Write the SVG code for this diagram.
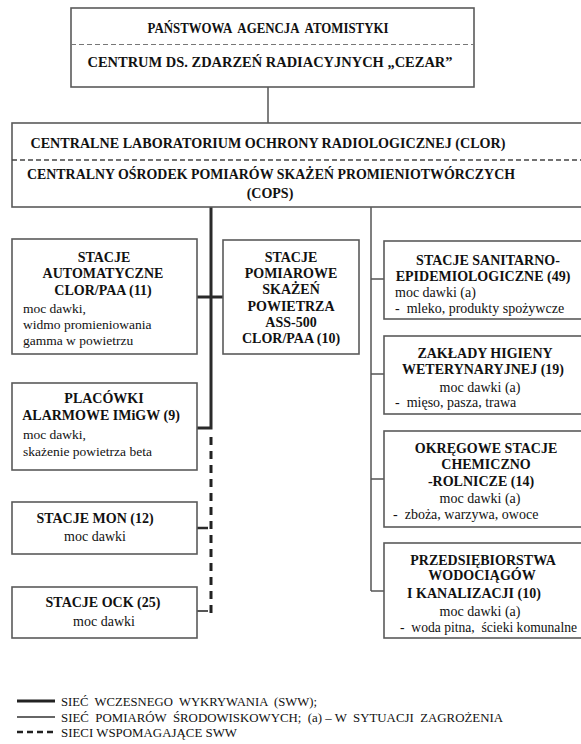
<svg xmlns="http://www.w3.org/2000/svg" width="581" height="744" viewBox="0 0 581 744">
<style>
.box{fill:#fff;stroke:#5a5a5a;stroke-width:1.6}
.div{stroke:#444;stroke-width:1.3;stroke-dasharray:5 3;fill:none}
.h{font-family:'Liberation Serif','DejaVu Serif',serif;font-weight:bold;font-size:14px;fill:#111;text-anchor:middle;white-space:pre}
.b{font-family:'Liberation Serif','DejaVu Serif',serif;font-size:13.5px;fill:#111;white-space:pre}
.br{font-family:'Liberation Serif','DejaVu Serif',serif;font-size:14px;fill:#111;white-space:pre}
.bc{font-family:'Liberation Serif','DejaVu Serif',serif;font-size:14px;fill:#111;text-anchor:middle}
.lg{font-family:'Liberation Serif','DejaVu Serif',serif;font-size:12.5px;fill:#111;white-space:pre}
.thick{stroke:#2a2a2a;stroke-width:3;fill:none}
.thin{stroke:#555;stroke-width:1.5;fill:none}
.dash{stroke:#222;stroke-width:3;stroke-dasharray:8 6;fill:none}
</style>
<rect width="581" height="744" fill="#fff"/>
<g id="connectors">
<line class="thin" x1="268" y1="87" x2="268" y2="123"/>
<path class="thick" d="M211 207 V428 H197"/>
<line class="thick" x1="197" y1="297" x2="223" y2="297"/>
<line class="dash" x1="211" y1="437" x2="211" y2="614"/>
<line class="thick" x1="197" y1="528" x2="208" y2="528" style="stroke-width:2.5"/>
<line class="thin" x1="197" y1="611" x2="208" y2="611" style="stroke-width:2"/>
<line class="thin" x1="371" y1="207" x2="371" y2="591"/>
<line class="thin" x1="371" y1="279" x2="384" y2="279"/>
<line class="thin" x1="371" y1="374" x2="384" y2="374"/>
<line class="thin" x1="371" y1="479" x2="384" y2="479"/>
<line class="thin" x1="371" y1="591" x2="384" y2="591"/>
</g>
<g id="paa">
<rect class="box" x="71" y="8" width="403" height="79"/>
<line class="div" x1="71" y1="44.5" x2="474" y2="44.5" style="stroke:#777;stroke-width:1"/>
<text class="h" x="268" y="33" font-size="13" textLength="241" lengthAdjust="spacingAndGlyphs">PAŃSTWOWA  AGENCJA  ATOMISTYKI</text>
<text class="h" x="270" y="67" font-size="15" textLength="365" lengthAdjust="spacingAndGlyphs">CENTRUM DS. ZDARZEŃ RADIACYJNYCH „CEZAR”</text>
</g>
<g id="clor">
<rect class="box" x="12" y="123" width="600" height="84"/>
<line class="div" x1="12" y1="160" x2="581" y2="160"/>
<text class="h" x="268" y="147.5" font-size="16" textLength="475" lengthAdjust="spacingAndGlyphs">CENTRALNE LABORATORIUM OCHRONY RADIOLOGICZNEJ (CLOR)</text>
<text class="h" x="271" y="178.5" font-size="16" textLength="488" lengthAdjust="spacingAndGlyphs">CENTRALNY OŚRODEK POMIARÓW SKAŻEŃ PROMIENIOTWÓRCZYCH</text>
<text class="h" x="270" y="197.5" font-size="16">(COPS)</text>
</g>
<g id="automatyczne">
<rect class="box" x="12" y="239" width="185" height="115"/>
<text class="h" x="104" y="262">STACJE</text>
<text class="h" x="103" y="278">AUTOMATYCZNE</text>
<text class="h" x="103" y="295">CLOR/PAA (11)</text>
<text class="b" x="23" y="313">moc dawki,</text>
<text class="b" x="23" y="329">widmo promieniowania</text>
<text class="b" x="23" y="345">gamma w powietrzu</text>
</g>
<g id="ass500">
<rect class="box" x="223" y="240" width="136" height="114"/>
<text class="h" x="291" y="262">STACJE</text>
<text class="h" x="291" y="278">POMIAROWE</text>
<text class="h" x="291" y="294">SKAŻEŃ</text>
<text class="h" x="291" y="311">POWIETRZA</text>
<text class="h" x="291" y="327">ASS-500</text>
<text class="h" x="291" y="343">CLOR/PAA (10)</text>
</g>
<g id="imigw">
<rect class="box" x="12" y="383" width="185" height="87"/>
<text class="h" x="104" y="403">PLACÓWKI</text>
<text class="h" x="101" y="420">ALARMOWE IMiGW (9)</text>
<text class="b" x="23" y="439">moc dawki,</text>
<text class="b" x="23" y="456">skażenie powietrza beta</text>
</g>
<g id="mon">
<rect class="box" x="12" y="502" width="185" height="52"/>
<text class="h" x="95" y="523">STACJE MON (12)</text>
<text class="bc" x="95" y="541">moc dawki</text>
</g>
<g id="ock">
<rect class="box" x="12" y="587" width="185" height="51"/>
<text class="h" x="103" y="607">STACJE OCK (25)</text>
<text class="bc" x="104" y="626">moc dawki</text>
</g>
<g id="sanepid">
<rect class="box" x="384" y="241" width="220" height="78"/>
<text class="h" x="488" y="265">STACJE SANITARNO-</text>
<text class="h" x="483" y="281">EPIDEMIOLOGICZNE (49)</text>
<text class="br" x="395" y="297">moc dawki (a)</text>
<text class="br" x="395" y="313">-  mleko, produkty spożywcze</text>
</g>
<g id="weterynaria">
<rect class="box" x="384" y="336" width="220" height="78"/>
<text class="h" x="485" y="358">ZAKŁADY HIGIENY</text>
<text class="h" x="483" y="374">WETERYNARYJNEJ (19)</text>
<text class="bc" x="480" y="392">moc dawki (a)</text>
<text class="br" x="395" y="407">-  mięso, pasza, trawa</text>
</g>
<g id="chemrol">
<rect class="box" x="384" y="431" width="220" height="96"/>
<text class="h" x="486" y="453">OKRĘGOWE STACJE</text>
<text class="h" x="486" y="469">CHEMICZNO</text>
<text class="h" x="481" y="486">-ROLNICZE (14)</text>
<text class="bc" x="480" y="503">moc dawki (a)</text>
<text class="br" x="393" y="519">-  zboża, warzywa, owoce</text>
</g>
<g id="wodkan">
<rect class="box" x="384" y="543" width="220" height="95"/>
<text class="h" x="483" y="565">PRZEDSIĘBIORSTWA</text>
<text class="h" x="482" y="580">WODOCIĄGÓW</text>
<text class="h" x="474" y="598">I KANALIZACJI (10)</text>
<text class="bc" x="480" y="616">moc dawki (a)</text>
<text class="br" x="400" y="632" textLength="177" lengthAdjust="spacingAndGlyphs">-  woda pitna,  ścieki komunalne</text>
</g>
<g id="legend">
<line x1="17" y1="701" x2="55" y2="701" stroke="#222" stroke-width="3"/>
<line x1="17" y1="717" x2="55" y2="717" stroke="#333" stroke-width="1.5"/>
<line x1="17" y1="732" x2="55" y2="732" stroke="#222" stroke-width="2.5" stroke-dasharray="6 4"/>
<text class="lg" x="61" y="705.5" textLength="256" lengthAdjust="spacingAndGlyphs">SIEĆ  WCZESNEGO  WYKRYWANIA  (SWW);</text>
<text class="lg" x="61" y="721.5" textLength="442" lengthAdjust="spacingAndGlyphs">SIEĆ  POMIARÓW  ŚRODOWISKOWYCH;  (a) – W  SYTUACJI  ZAGROŻENIA</text>
<text class="lg" x="61" y="736.5" textLength="176" lengthAdjust="spacingAndGlyphs">SIECI WSPOMAGAJĄCE SWW</text>
</g>
</svg>
